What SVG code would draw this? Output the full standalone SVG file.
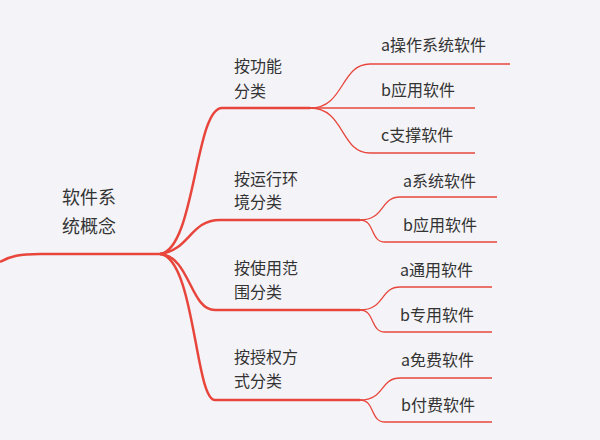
<svg xmlns="http://www.w3.org/2000/svg" width="600" height="440" viewBox="0 0 600 440">
<style>
.t{font-family:"Noto Sans CJK SC","Liberation Sans",sans-serif;fill:#333;}
.b{fill:none;stroke:#e8463c;stroke-width:2.5}
.l{fill:none;stroke:#e8463c;stroke-width:1.3}
</style>
<rect width="600" height="440" fill="#f4f4f8"/>
<g id="connectors">
<path class="b" d="M0,262 C10,256 20,254 40,254 L160,254"/>
<path class="b" d="M160,254 C195,250 195,108 222,108 L310,108"/>
<path class="b" d="M160,254 C190,250 190,220 220,220 L360,220"/>
<path class="b" d="M160,254 C190,256 190,310 215,310 L360,310"/>
<path class="b" d="M160,254 C195,258 195,400 215,400 L360,400"/>
<path class="l" d="M310,108 C345,108 340,64 370,64 L510,64"/>
<path class="l" d="M310,108 L475,108"/>
<path class="l" d="M310,108 C345,108 340,153 370,153 L475,153"/>
<path class="l" d="M360,220 C385,220 380,197 400,197 L497,197"/>
<path class="l" d="M360,220 C375,220 370,242 385,242 L497,242"/>
<path class="l" d="M360,310 C385,310 380,287 400,287 L492,287"/>
<path class="l" d="M360,310 C375,310 370,332 385,332 L492,332"/>
<path class="l" d="M360,400 C385,400 380,378 400,378 L492,378"/>
<path class="l" d="M360,400 C375,400 370,422 385,422 L492,422"/>
</g>
<g id="root"><text class="t" font-size="18" x="62" y="204">软件系</text><text class="t" font-size="18" x="62" y="233">统概念</text></g>
<g id="n1" class="t" font-size="16"><text x="234" y="72">按功能</text><text x="234" y="97">分类</text></g>
<g id="n2" class="t" font-size="16"><text x="234" y="185">按运行环</text><text x="234" y="208">境分类</text></g>
<g id="n3" class="t" font-size="16"><text x="234" y="274">按使用范</text><text x="234" y="298">围分类</text></g>
<g id="n4" class="t" font-size="16"><text x="234" y="363">按授权方</text><text x="234" y="387">式分类</text></g>
<g id="leaves" class="t" font-size="16">
<text x="381" y="51">a操作系统软件</text>
<text x="381" y="96">b应用软件</text>
<text x="381" y="141">c支撑软件</text>
<text x="403" y="187">a系统软件</text>
<text x="403" y="231">b应用软件</text>
<text x="400" y="276">a通用软件</text>
<text x="400" y="321">b专用软件</text>
<text x="401" y="366">a免费软件</text>
<text x="401" y="411">b付费软件</text>
</g>
</svg>
